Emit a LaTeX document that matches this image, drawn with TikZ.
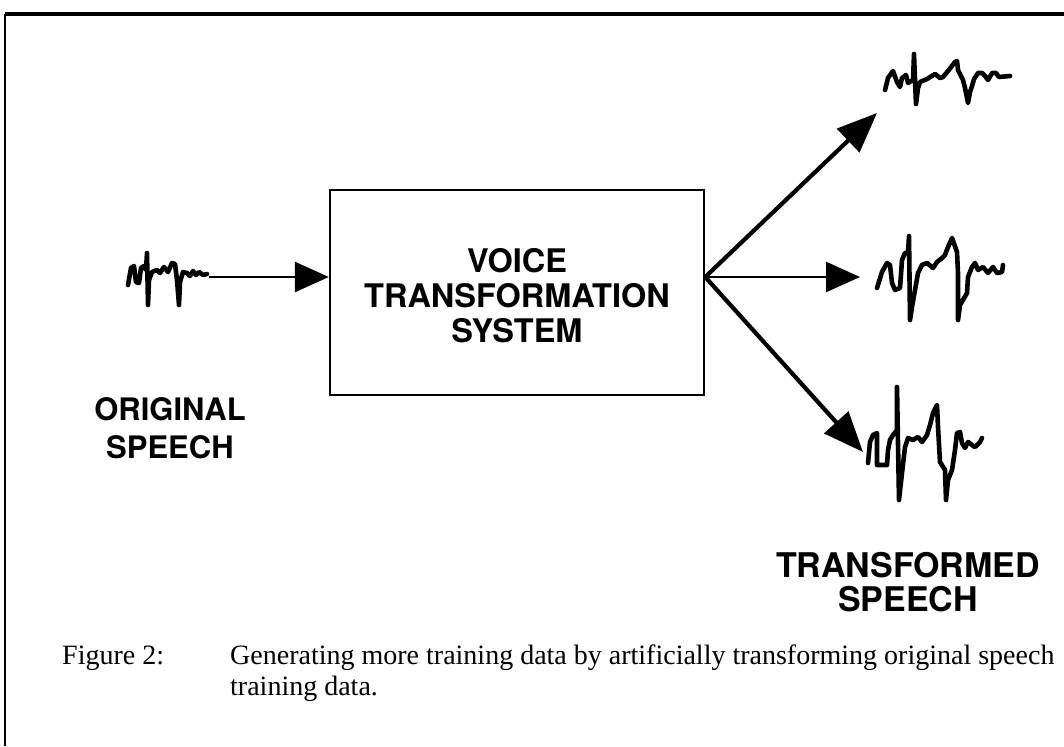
\documentclass[tikz,border=0pt]{standalone}
\usepackage{fontspec}
\setmainfont{Liberation Serif}
\newfontfamily\labfont{TeX Gyre Heros}
\usetikzlibrary{arrows.meta}
\begin{document}
\begin{tikzpicture}[x=1pt,y=-1pt,
  wave/.style={line width=4.6pt,line join=round,line cap=round},
  lab/.style={align=center,inner sep=0pt},
  captext/.style={font=\fontsize{28}{31}\selectfont,anchor=base west,inner sep=0pt},
  thinarrow/.style={line width=2.6pt,-{Triangle[length=34pt,width=30pt]}},
  thickarrow/.style={line width=4.2pt,-{Triangle[length=40pt,width=32pt]}}]
\useasboundingbox (0,0) rectangle (1064,746);
% frame
\draw[line width=3.5pt] (5,14) -- (1064,14);
\draw[line width=2.8pt] (5,14) -- (5,746);
% box
\node[draw,line width=2.4pt,minimum width=374pt,minimum height=205pt,inner sep=0pt] (vts) at (517,292.5) {};
\node[lab,font=\labfont\bfseries\fontsize{32.5}{35}\selectfont] (vtstext) at ([yshift=-3pt]vts.center)
      {VOICE\\TRANSFORMATION\\SYSTEM};
% input waveform
\draw[wave] (128,285) -- (131,268) -- (134,266) -- (136,282) -- (139,283) -- (141,268) -- (144,266) -- (146,270) -- (147,253) -- (148,305) -- (149,280) -- (152,272) -- (157,270) -- (160,273) -- (164,267) -- (168,272) -- (172,263) -- (175,264) -- (177,280) -- (179,305) -- (180,282) -- (183,272) -- (187,273) -- (190,276) -- (193,271) -- (196,275) -- (199,272) -- (203,275) -- (207,274);
\coordinate (in0) at (209,277);
\coordinate (hub) at (in0 -| vts.east);
\coordinate (o1) at (877,113);
\coordinate (o2) at (860,277);
\coordinate (o3) at (863,452);
\draw[thinarrow] (in0) -- (in0 -| vts.west);
\draw[thickarrow] (hub) -- (o1);
\draw[thinarrow] (hub) -- (o2);
\draw[thickarrow] (hub) -- (o3);
% output waveforms
\draw[wave] (885,90) -- (888,78) -- (893,71) -- (897,82) -- (900,87) -- (902,78) -- (906,75) -- (908,83) -- (913,80) -- (914,54) -- (915,80) -- (916,104) -- (918,88) -- (920,82) -- (927,79) -- (935,74) -- (940,78) -- (943,77) -- (948,71) -- (955,62) -- (957,61) -- (958,70) -- (963,80) -- (965,88) -- (968,103) -- (970,92) -- (972,86) -- (974,79) -- (978,73) -- (982,73) -- (985,76) -- (988,80) -- (992,73) -- (996,73) -- (999,77) -- (1010,76);
\draw[wave] (877,288) -- (882,272) -- (887,263) -- (890,265) -- (892,283) -- (895,290) -- (900,288) -- (902,260) -- (905,253) -- (908,253) -- (909,236) -- (910,320) -- (912,307) -- (915,290) -- (918,273) -- (922,265) -- (927,263) -- (933,268) -- (937,262) -- (942,258) -- (945,255) -- (948,247) -- (952,238) -- (957,252) -- (958,273) -- (958,320) -- (960,305) -- (967,293) -- (968,277) -- (972,267) -- (975,263) -- (978,270) -- (983,267) -- (988,273) -- (993,267) -- (997,273) -- (1002,272) -- (1003,265);
\draw[wave] (868,463) -- (870,442) -- (873,435) -- (877,433) -- (877,465) -- (887,465) -- (888,450) -- (890,440) -- (893,435) -- (897,430) -- (897,387) -- (899,500) -- (902,473) -- (905,447) -- (908,438) -- (913,440) -- (918,437) -- (922,442) -- (927,435) -- (930,425) -- (933,413) -- (937,405) -- (938,427) -- (940,462) -- (945,470) -- (946,500) -- (948,480) -- (952,470) -- (955,450) -- (957,433) -- (960,432) -- (962,443) -- (965,448) -- (968,442) -- (972,445) -- (975,447) -- (980,442) -- (982,438);
% labels
\node[lab,font=\labfont\bfseries\fontsize{31}{38}\selectfont,anchor=base] (orig) at (170,458) {ORIGINAL\\SPEECH};
\node[lab,font=\labfont\bfseries\fontsize{34}{34}\selectfont,anchor=base] (trans) at (908,611) {TRANSFORMED\\SPEECH};
% caption
\node[captext] (fig) at (62,664) {Figure 2:};
\node[captext] (c1) at (230,664) {Generating more training data by artificially transforming original speech};
\node[captext] (c2) at (230,695) {training data.};
\end{tikzpicture}
\end{document}
